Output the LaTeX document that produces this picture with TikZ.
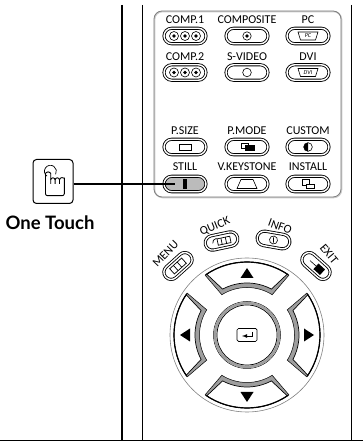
\documentclass[tikz,border=0pt]{standalone}
\usepackage{fontspec}
\setmainfont{Carlito}
\newfontfamily\touchfont{Lato}
\usetikzlibrary{shapes.misc}
\definecolor{panelgray}{gray}{0.5}
\definecolor{keygray}{gray}{0.62}
\tikzset{
  capsule/.style={rounded rectangle,draw=black,line width=0.85pt,double=white,double distance=1.4pt,fill=white,minimum width=42pt,minimum height=15.5pt,inner sep=0pt},
  smallcapsule/.style={capsule,minimum width=33pt,minimum height=14.5pt},
  keylabel/.style={font=\fontsize{12}{13}\selectfont,inner sep=0pt},
  keyicon/.style={draw=black,line width=0.6pt,fill=white},
}
\begin{document}
\begin{tikzpicture}[x=1pt,y=1pt]
  \useasboundingbox (0,0) rectangle (363,441);
  % page rules
  \coordinate (rulea) at (122,436);
  \coordinate (ruleb) at (142.5,436);
  \coordinate (rulec) at (351.5,436);
  \coordinate (floor) at (0,0.7);
  \draw[line width=1.5pt] (rulea) -- (rulea |- floor);
  \draw[line width=0.8pt] (ruleb) -- (ruleb |- floor);
  \draw[line width=0.8pt] (rulec) -- (rulec |- floor);
  \draw[line width=0.9pt] (floor) -- (floor -| 363,0);
  % panel
  \draw[gray!40,line width=1.4pt,rounded corners=8pt] (154.6,429.4) rectangle (341.6,243.4);
  \draw[panelgray,line width=0.8pt,rounded corners=8pt] (154,430) rectangle (341,244);
  % keys, first block
  \node[keylabel] (comp1l) at (185,421) {COMP.1};
  \node[capsule] (comp1) at (185,405) {};
  \node[keylabel] (compositel) at (247,421) {COMPOSITE};
  \node[capsule] (composite) at (247,405) {};
  \node[keylabel] (pcl) at (308,421) {PC};
  \node[capsule] (pc) at (308,405) {};
  \node[keylabel] (comp2l) at (185,384) {COMP.2};
  \node[capsule] (comp2) at (185,368.5) {};
  \node[keylabel] (svideol) at (247,384) {S-VIDEO};
  \node[capsule] (svideo) at (247,368.5) {};
  \node[keylabel] (dvil) at (308,384) {DVI};
  \node[capsule] (dvi) at (308,368.5) {};
  % keys, second block
  \node[keylabel] (psizel) at (185,310) {P.SIZE};
  \node[capsule] (psize) at (185,294) {};
  \node[keylabel] (pmodel) at (247,310) {P.MODE};
  \node[capsule] (pmode) at (247,294) {};
  \node[keylabel] (customl) at (308,310) {CUSTOM};
  \node[capsule] (custom) at (308,294) {};
  \node[keylabel] (stilll) at (185,274) {STILL};
  \node[capsule,fill=keygray!70] (still) at (185,257) {};
  \node[keylabel] (keystonel) at (247,274) {V.KEYSTONE};
  \node[capsule] (keystone) at (247,257) {};
  \node[keylabel] (installl) at (308,274) {INSTALL};
  \node[capsule] (install) at (308,257) {};
  % key icons
  \foreach \k in {comp1,comp2}
    \foreach \d in {-11,0,11} {
      \draw[keyicon] ([xshift=\d pt]\k.center) circle (4.5pt);
      \fill ([xshift=\d pt]\k.center) circle (1.8pt);
    }
  \draw[keyicon] (composite.center) circle (4.2pt);
  \fill (composite.center) circle (1.9pt);
  \draw[keyicon] (svideo.center) circle (4.3pt);
  \draw[keyicon] ([xshift=-10pt,yshift=4pt]pc.center) -- ++(20,0) -- ++(-2.5,-8) -- ++(-15,0) -- cycle;
  \node[font=\fontsize{6}{6}\selectfont\itshape,inner sep=0pt] (pct) at (pc.center) {PC};
  \draw[keyicon] ([xshift=-10pt,yshift=4pt]dvi.center) -- ++(20,0) -- ++(-2.5,-8) -- ++(-15,0) -- cycle;
  \node[font=\fontsize{6}{6}\selectfont\itshape,inner sep=0pt] (dvit) at (dvi.center) {DVI};
  \draw[keyicon] ([xshift=-6pt,yshift=-3pt]psize.center) rectangle ++(12,6);
  \draw[keyicon] ([xshift=-5.5pt,yshift=-1pt]pmode.center) rectangle ++(7,5);
  \fill ([xshift=-2pt,yshift=-4pt]pmode.center) rectangle ++(9.5,5.5);
  \draw[keyicon] (custom.center) circle (4.3pt);
  \fill (custom.center) ++(0,4.3) arc[start angle=90,end angle=270,radius=4.3];
  \fill ([xshift=-2pt,yshift=-5pt]still.center) rectangle ++(4,10);
  \draw[keyicon] ([xshift=-10pt,yshift=-4.5pt]keystone.center) -- ++(20,0) -- ++(-4,9) -- ++(-12,0) -- cycle;
  \draw[keyicon] ([xshift=-5.5pt,yshift=-1.5pt]install.center) rectangle ++(7,6);
  \draw[keyicon] ([xshift=-1.5pt,yshift=-4.5pt]install.center) rectangle ++(7.5,4);
  % one touch
  \node[draw=black,line width=1pt,rounded corners=3.5pt,minimum width=40pt,minimum height=44pt,inner sep=0pt] (touchbox) at (53,259.5) {};
  \coordinate (stillend) at (175,257);
  \draw[line width=1.5pt] (touchbox.east |- stillend) -- (stillend);
  \node[font=\touchfont\bfseries\fontsize{18.5}{19}\selectfont,inner sep=0pt] (touchl) at (50,218) {One Touch};
  \draw[line width=0.7pt] (47,264.8) arc[start angle=235,end angle=-30,radius=6];
  \draw[line width=0.9pt,rounded corners=1pt] (45.5,253) -- (45.5,266.5) arc[start angle=180,end angle=0,radius=2.6] -- (50.7,257);
  \draw[line width=0.9pt] (50.7,261) arc[start angle=180,end angle=0,radius=2.2] -- ++(0,-4);
  \draw[line width=0.9pt] (55.1,261) arc[start angle=180,end angle=0,radius=2.2] -- ++(0,-4);
  \draw[line width=0.9pt,rounded corners=2pt] (59.5,261) arc[start angle=180,end angle=0,radius=2.4] -- (64.3,245.3) -- (45.5,245.3) -- (45.5,254);
  % upper keys of the wheel
  \node[smallcapsule,rotate=12] (quick) at (221.5,200) {};
  \node[smallcapsule,rotate=-10] (info) at (273.5,201) {};
  \node[smallcapsule,rotate=-42] (exit) at (316,175) {};
  \node[smallcapsule,rotate=42] (menu) at (178,175) {};
  \node[keylabel,rotate=22] (quickl) at (215,214.5) {QUICK};
  \node[keylabel,rotate=-20] (infol) at (280,214.5) {INFO};
  \node[keylabel,rotate=-50] (exitl) at (329,187) {EXIT};
  \node[keylabel,rotate=46] (menul) at (165.5,187) {MENU};
  \begin{scope}[shift={(quick.center)},rotate=12]
    \draw[line width=0.7pt] (-9,-0.5) arc[start angle=180,end angle=60,radius=4] -- (9,3) -- (9,-3.5) -- (-4,-3.5) -- (-4,3);
    \draw[line width=0.7pt] (0,3) -- (0,-3.5) (4.5,3) -- (4.5,-3.5);
  \end{scope}
  \begin{scope}[shift={(menu.center)},rotate=42]
    \draw[line width=0.7pt] (-8,-3.5) rectangle (8,3.5);
    \draw[line width=0.7pt] (-3,-3.5) -- (-3,3.5) (2,-3.5) -- (2,3.5);
  \end{scope}
  \begin{scope}[shift={(info.center)},rotate=-10]
    \draw[line width=0.6pt] (0,0) circle (4pt);
    \draw[line width=0.6pt] (0.4,-2.5) -- (-0.4,2.5);
  \end{scope}
  \begin{scope}[shift={(exit.center)},rotate=-42]
    \fill (0.5,-4) rectangle (9,3.5);
    \draw[line width=0.6pt] (-8,0) -- (0.5,0);
    \draw[line width=0.6pt] (0.5,-4) -- (0.5,3.5);
  \end{scope}
  % wheel
  \node[circle,draw=panelgray,line width=0.6pt,minimum size=154pt,inner sep=0pt] (wheel) at (247,106) {};
  \begin{scope}[shift={(wheel.center)}]
    \foreach \a in {90,0,-90,180} {
      \draw[line width=0.5pt,fill=keygray,line join=miter] (\a+35:73) arc[start angle=\a+35,end angle=\a-35,radius=73] -- (\a-32:47.5) arc[start angle=\a-32,end angle=\a+32,radius=47.5] -- cycle;
      \draw[line width=0.7pt,fill=white,line join=miter] (\a+33.5:73) arc[start angle=\a+33.5,end angle=\a-33.5,radius=73] -- (\a-28:52) arc[start angle=\a-28,end angle=\a+28,radius=52] -- cycle;
      \draw[line width=1.2pt] (\a+34.5:73) arc[start angle=\a+34.5,end angle=\a-34.5,radius=73];
      \fill[rotate=\a] (62-5,-6.5) -- (62+5,0) -- (62-5,6.5) -- cycle;
    }
  \end{scope}
  \node[circle,draw=black,line width=0.5pt,fill=white,minimum size=67pt,inner sep=0pt] (enterouter) at (wheel.center) {};
  \draw[keygray,line width=2.6pt] (wheel.center) circle (31.9pt);
  \node[circle,draw=black,line width=0.7pt,minimum size=60pt,inner sep=0pt] (enterinner) at (wheel.center) {};
  \node[draw=black,line width=0.7pt,rounded corners=1.5pt,minimum width=20pt,minimum height=13pt,inner sep=0pt] (enter) at (wheel.center) {};
  \draw[line width=0.8pt,-latex] ([xshift=5pt,yshift=3pt]enter.center) -- ++(0,-4) -- ++(-10,0);
\end{tikzpicture}
\end{document}
